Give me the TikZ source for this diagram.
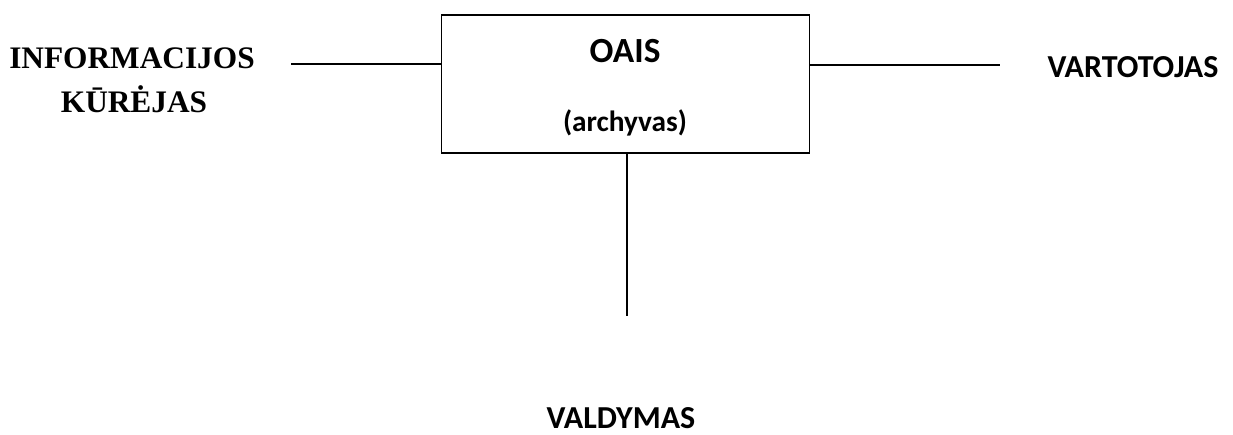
\documentclass[tikz,border=0pt]{standalone}
\usepackage{fontspec}
\newfontfamily\serifbold{Liberation Serif}[BoldFont={Liberation Serif Bold}]
\newfontfamily\calibold{Carlito}
\usetikzlibrary{calc}

\begin{document}
\begin{tikzpicture}[x=0.75pt,y=-0.75pt,
	line/.style={line width=1.1pt},
	archbox/.style={rectangle, draw, line width=1.2pt, minimum width=276pt, minimum height=103.5pt, inner sep=0pt},
	serlabel/.style={anchor=base, inner sep=0pt, font=\serifbold\bfseries\fontsize{23.5}{28}\selectfont},
	callabel/.style={anchor=base, inner sep=0pt, font=\calibold\bfseries\fontsize{24}{28}\selectfont}]
		\useasboundingbox (0,0) rectangle (1233,435);

		\path (625.5, 84) node[archbox] (archive) {}
			(625, 63) node[callabel, font=\calibold\bfseries\fontsize{26.5}{32}\selectfont] (oais) {OAIS}
			(625, 132) node[callabel, font=\calibold\bfseries\fontsize{22}{26}\selectfont] (arch) {(archyvas)}
			(132, 69) node[serlabel] (info) {INFORMACIJOS}
			(134, 113) node[serlabel] (kurejas) {KŪRĖJAS}
			(1133, 78) node[callabel] (user) {VARTOTOJAS}
			(621, 428) node[callabel] (mgmt) {VALDYMAS};

		\coordinate (infoend) at (291, 64);
		\coordinate (userend) at (1000, 65);
		\coordinate (mgmtend) at (627, 316);

		\draw[line] (infoend) -- (infoend -| archive.west);
		\draw[line] (userend -| archive.east) -- (userend);
		\draw[line] (mgmtend |- archive.south) -- (mgmtend);
	\end{tikzpicture}
\end{document}
